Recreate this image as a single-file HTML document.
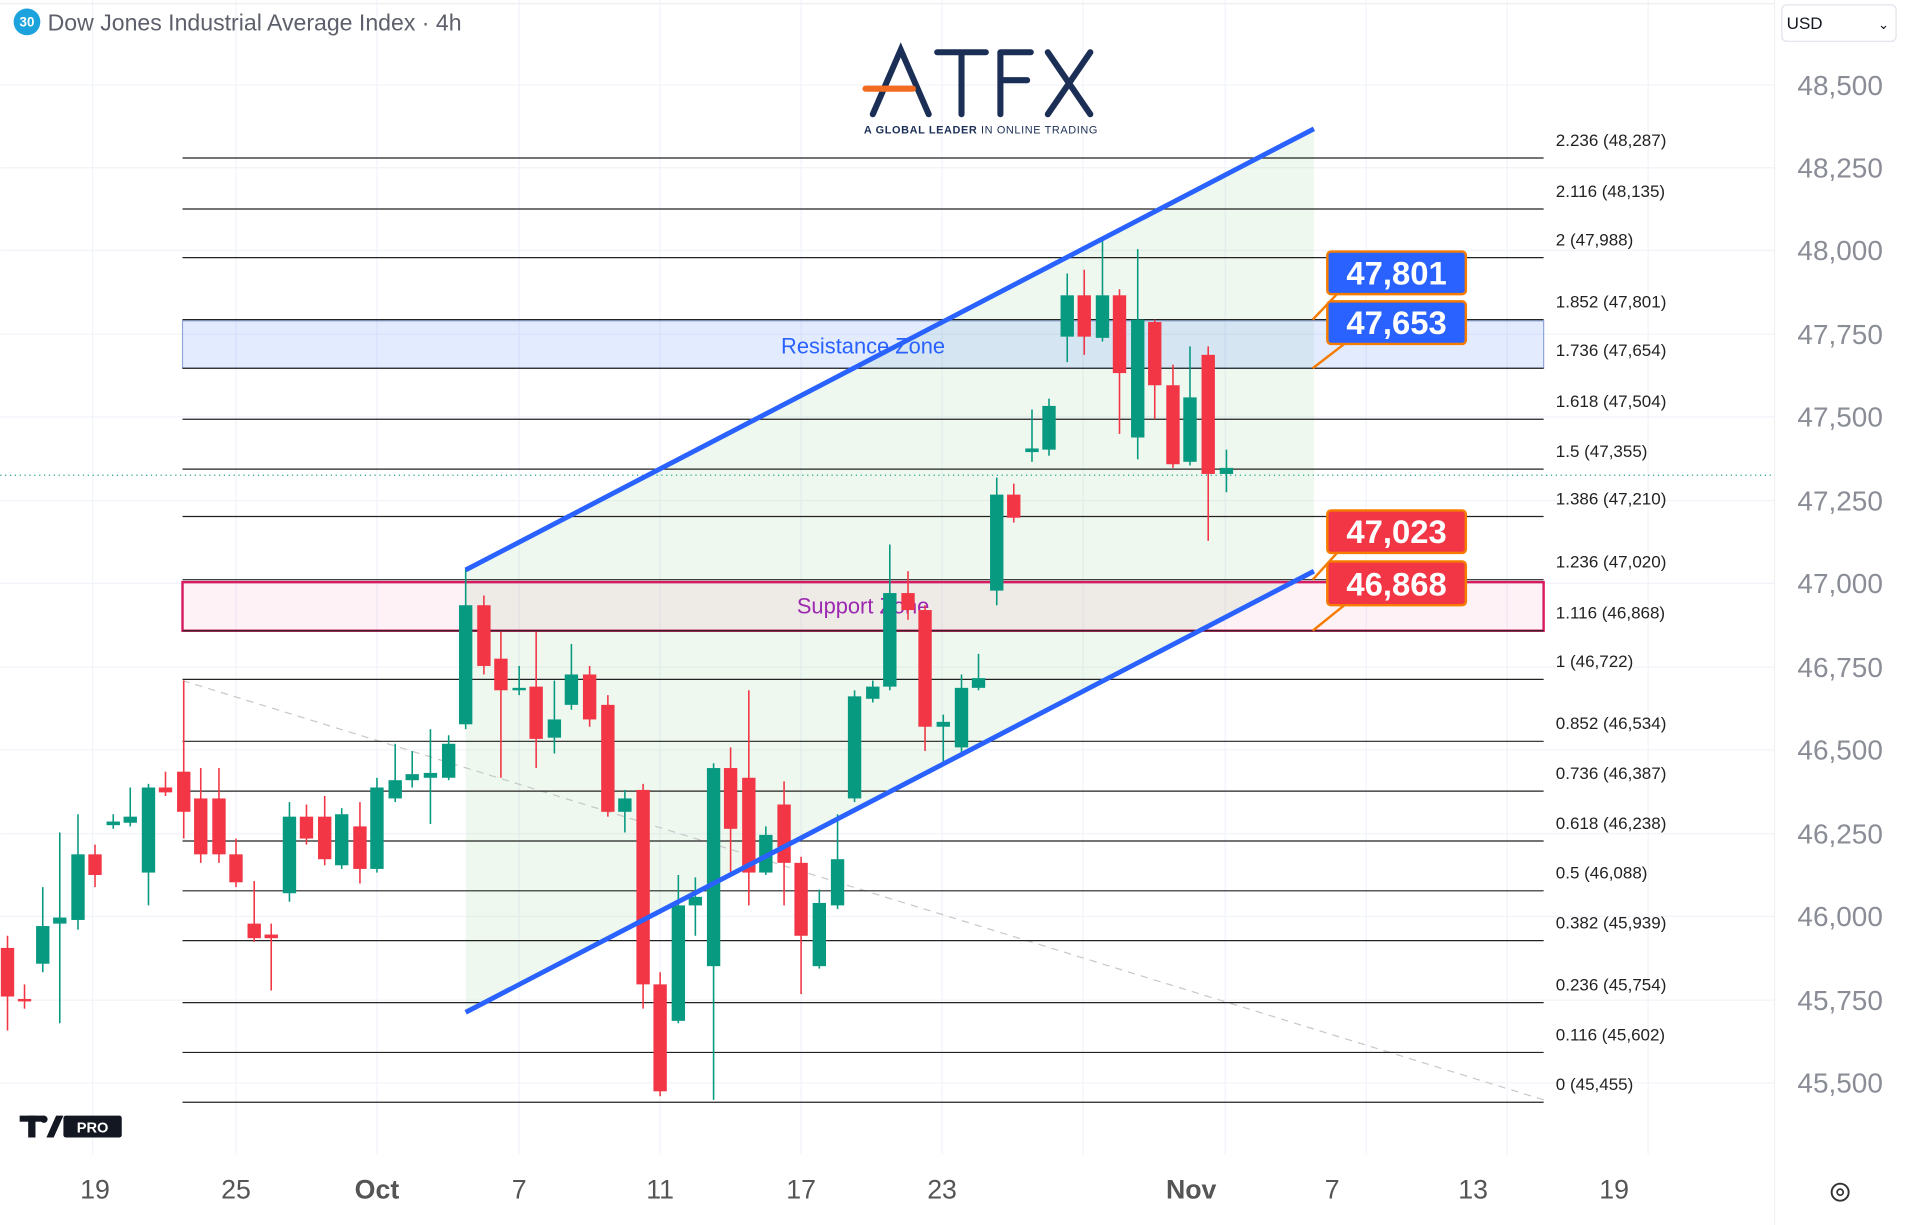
<!DOCTYPE html>
<html><head><meta charset="utf-8"><style>
html,body{margin:0;padding:0;background:#fff;overflow:hidden}
svg{display:block}
text{font-family:"Liberation Sans",sans-serif}
</style></head><body>
<svg id="s" width="1906" height="1225" viewBox="0 0 1568 1008" xmlns="http://www.w3.org/2000/svg">
<rect width="1568" height="1008" fill="#fff"/>
<g id="grid" stroke="#f0f3fa" stroke-width="1"></g>
<line x1="0" y1="3" x2="1460" y2="3" stroke="#eee"/>
<line x1="1460" y1="0" x2="1460" y2="1008" stroke="#f0f0f0"/>
<polygon points="383,469 1081,106 1081,470 383,833" fill="#4caf50" fill-opacity="0.09"/>
<rect x="150" y="264" width="1120" height="39" fill="#2962ff" fill-opacity="0.13" stroke="#8fa8d8" stroke-width="1"/>
<text x="710" y="291" font-size="18" fill="#2962ff" text-anchor="middle">Resistance Zone</text>
<rect x="150" y="479" width="1120" height="40" fill="#e91e63" fill-opacity="0.06" stroke="#d81b60" stroke-width="2"/>
<text x="710" y="505" font-size="18" fill="#9c27b0" text-anchor="middle">Support Zone</text>
<line x1="150" y1="560" x2="1270" y2="905" stroke="#c8c8c8" stroke-dasharray="6,5" stroke-width="1"/>
<line x1="0" y1="391" x2="1460" y2="391" stroke="#089981" stroke-dasharray="1,3" stroke-width="1"/>
<g id="fib"></g>
<g id="candles"></g>
<line x1="383" y1="469" x2="1081" y2="106" stroke="#2962ff" stroke-width="4"/>
<line x1="383" y1="833" x2="1081" y2="470" stroke="#2962ff" stroke-width="4"/>
<g stroke="#f57c00" stroke-width="2"><line x1="1080" y1="263" x2="1100" y2="242"/><line x1="1080" y1="303" x2="1106" y2="283"/><line x1="1080" y1="477" x2="1100" y2="455"/><line x1="1080" y1="519" x2="1106" y2="498"/></g>
<g font-size="27" font-weight="bold" fill="#fff" text-anchor="middle">
<rect x="1092" y="207" width="114" height="35" rx="3" fill="#2962ff" stroke="#f57c00" stroke-width="2"/><text x="1149" y="234">47,801</text>
<rect x="1092" y="248" width="114" height="35" rx="3" fill="#2962ff" stroke="#f57c00" stroke-width="2"/><text x="1149" y="275">47,653</text>
<rect x="1092" y="420" width="114" height="35" rx="3" fill="#f23645" stroke="#f57c00" stroke-width="2"/><text x="1149" y="447">47,023</text>
<rect x="1092" y="462" width="114" height="36" rx="3" fill="#f23645" stroke="#f57c00" stroke-width="2"/><text x="1149" y="490">46,868</text>
</g>
<g id="axis" font-size="23" fill="#8a8d96" text-anchor="middle"></g>
<g font-size="22" fill="#555" text-anchor="middle">
<text x="78" y="986">19</text><text x="194" y="986">25</text><text x="310" y="986" font-weight="bold">Oct</text><text x="427" y="986">7</text><text x="543" y="986">11</text><text x="659" y="986">17</text><text x="775" y="986">23</text><text x="980" y="986" font-weight="bold">Nov</text><text x="1096" y="986">7</text><text x="1212" y="986">13</text><text x="1328" y="986">19</text>
</g>
<circle cx="1514" cy="981" r="7" fill="none" stroke="#333" stroke-width="1.6"/><circle cx="1514" cy="981" r="2.5" fill="none" stroke="#333" stroke-width="1.4"/>
<circle cx="22" cy="18" r="11" fill="#1ca3dd"/><text x="22" y="22" font-size="11" font-weight="bold" fill="#fff" text-anchor="middle">30</text>
<text x="39" y="25" font-size="19" fill="#5d606b">Dow Jones Industrial Average Index · 4h</text>
<rect x="1466" y="4" width="94" height="30" rx="4" fill="#fff" stroke="#e0e3eb"/>
<text x="1470" y="24" font-size="14" fill="#131722">USD</text><text x="1545" y="24" font-size="11" fill="#131722">⌄</text>
<g fill="none" stroke="#1b2e55" stroke-width="5" stroke-linecap="round">
<path d="M718,94 L741,41 L764,94"/><path d="M771,43 L811,43 M791,43 L791,94"/><path d="M823,43 L848,43 M823,43 L823,94 M823,66 L845,66"/><path d="M862,43 L897,94 M897,43 L862,94"/>
</g>
<line x1="712" y1="73" x2="751" y2="73" stroke="#f26b21" stroke-width="5" stroke-linecap="round"/>
<text x="807" y="110" font-size="9" fill="#1b2e55" text-anchor="middle" font-weight="bold" letter-spacing="0.5">A GLOBAL LEADER <tspan font-weight="normal">IN ONLINE TRADING</tspan></text>
<g fill="#131722"><rect x="16" y="918" width="20" height="5"/><rect x="23" y="918" width="6" height="18"/><polygon points="38,936 46,918 52,918 44,936"/><circle cx="36" cy="921" r="3"/></g>
<rect x="52" y="918" width="48" height="18" rx="2" fill="#131722"/><text x="76" y="932" font-size="12" font-weight="bold" fill="#fff" text-anchor="middle">PRO</text>
</svg>
<script>
var NS="http://www.w3.org/2000/svg";
function el(p,t,a,txt){var e=document.createElementNS(NS,t);for(var k in a)e.setAttribute(k,a[k]);if(txt!=null)e.textContent=txt;document.getElementById(p).appendChild(e);}
var ax=[["48,500",70],["48,250",138],["48,000",206],["47,750",275],["47,500",343],["47,250",412],["47,000",480],["46,750",549],["46,500",617],["46,250",686],["46,000",754],["45,750",823],["45,500",891]];
ax.forEach(function(a){el("grid","line",{x1:0,y1:a[1],x2:1460,y2:a[1]});el("axis","text",{x:1514,y:a[1]+8},a[0]);});
[76,194,310,427,543,659,775,891,1008,1124,1240,1356].forEach(function(x){el("grid","line",{x1:x,y1:0,x2:x,y2:950});});
var fib=[["2.236 (48,287)",130],["2.116 (48,135)",172],["2 (47,988)",212],["1.852 (47,801)",263],["1.736 (47,654)",303],["1.618 (47,504)",345],["1.5 (47,355)",386],["1.386 (47,210)",425],["1.236 (47,020)",477],["1.116 (46,868)",519],["1 (46,722)",559],["0.852 (46,534)",610],["0.736 (46,387)",651],["0.618 (46,238)",692],["0.5 (46,088)",733],["0.382 (45,939)",774],["0.236 (45,754)",825],["0.116 (45,602)",866],["0 (45,455)",907]];
fib.forEach(function(f){el("fib","line",{x1:150,y1:f[1],x2:1270,y2:f[1],stroke:"#222","stroke-width":1});el("fib","text",{x:1280,y:f[1]-10,"font-size":14,fill:"#222"},f[0]);});
var c=[[6,'r',780,820,770,848],[20,'r',822,824,810,830],[35,'g',762,793,730,800],[49,'g',755,760,685,842],[64,'g',703,757,670,765],[78,'r',703,720,695,730],[93,'g',676,679,670,682],[107,'g',672,677,648,680],[122,'g',648,718,645,745],[136,'r',648,652,635,655],[151,'r',635,668,560,690],[165,'r',657,703,632,710],[180,'r',657,703,632,710],[194,'r',703,726,690,730],[209,'r',760,772,725,775],[223,'r',769,772,760,815],[238,'g',672,735,660,742],[252,'r',672,690,662,695],[267,'r',672,707,655,712],[281,'g',670,712,665,715],[296,'r',680,715,660,727],[310,'g',648,715,640,718],[325,'g',642,657,612,660],[339,'g',637,642,618,648],[354,'g',636,640,600,678],[369,'g',612,640,605,642],[383,'g',498,596,468,600],[398,'r',498,548,490,555],[412,'r',542,568,520,640],[427,'g',566,568,548,572],[441,'r',565,608,520,632],[456,'g',592,607,560,620],[470,'g',555,580,530,584],[485,'r',555,592,548,598],[500,'r',580,668,572,672],[514,'g',657,668,650,685],[529,'r',650,810,645,830],[543,'r',810,898,800,902],[558,'g',745,840,720,842],[572,'g',738,745,722,770],[587,'g',632,795,628,905],[601,'r',632,682,615,720],[616,'r',640,718,568,745],[630,'g',687,718,680,720],[645,'r',662,710,643,745],[659,'r',710,770,705,818],[674,'g',743,795,732,797],[689,'g',707,745,670,748],[703,'g',573,657,568,660],[718,'g',565,575,560,578],[732,'g',488,565,448,568],[747,'r',488,502,470,510],[761,'r',502,598,498,618],[776,'g',594,598,588,628],[791,'g',566,615,555,620],[805,'g',558,566,538,568],[820,'g',407,486,393,498],[834,'r',407,426,398,430],[849,'g',369,372,337,380],[863,'g',334,370,328,375],[878,'g',243,277,225,298],[892,'r',243,277,222,292],[907,'g',243,278,198,281],[921,'r',243,307,238,357],[936,'g',263,360,205,378],[950,'r',265,317,263,345],[965,'r',317,382,300,385],[979,'g',327,380,285,383],[994,'r',292,390,285,445],[1009,'g',385,390,370,405]];
c.forEach(function(k){var col=k[1]=='g'?"#089981":"#f23645";el("candles","line",{x1:k[0],y1:k[4],x2:k[0],y2:k[5],stroke:col,"stroke-width":1.3});el("candles","rect",{x:k[0]-5.5,y:k[2],width:11,height:Math.max(2,k[3]-k[2]),fill:col});});
</script>
</body></html>
